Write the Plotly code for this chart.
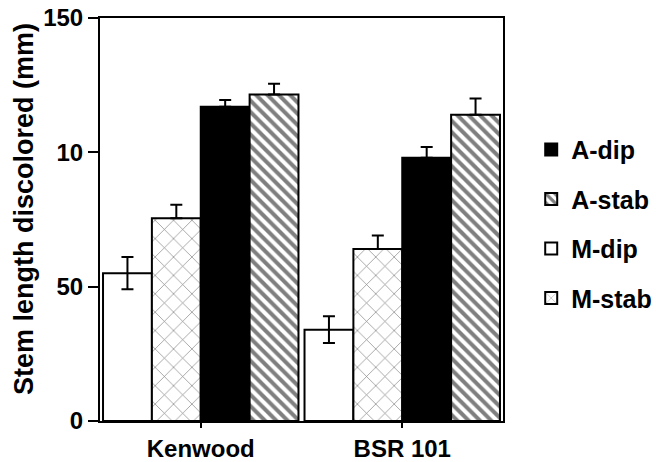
import plotly.graph_objects as go

cultivars = ["Kenwood", "BSR 101"]
series = ["M-dip", "M-stab", "A-dip", "A-stab"]
m_dip = [55, 34]
m_stab = [75.5, 64]
a_dip = [117, 98]
a_stab = [121.5, 114]
err_m_dip = [6, 5]
err_m_stab = [5, 5]
err_a_dip = [2.5, 4]
err_a_stab = [4, 6]
y_tickvals = [0, 50, 100, 150]
y_ticktext = ["0", "50", "10", "150"]
y_title = "Stem length discolored (mm)"

FONT = "Liberation Sans, Arial, sans-serif"

styles = {
    "M-dip": dict(color="white", pattern=dict(shape="")),
    "M-stab": dict(color="white", pattern=dict(shape="x", fgcolor="black", bgcolor="white", size=13, solidity=0.1)),
    "A-dip": dict(color="black", pattern=dict(shape="")),
    "A-stab": dict(color="white", pattern=dict(shape="\\", fgcolor="black", bgcolor="white", size=8, solidity=0.5)),
}
values = {"M-dip": m_dip, "M-stab": m_stab, "A-dip": a_dip, "A-stab": a_stab}
errs = {"M-dip": err_m_dip, "M-stab": err_m_stab, "A-dip": err_a_dip, "A-stab": err_a_stab}
ranks = {"A-dip": 1, "A-stab": 2, "M-dip": 3, "M-stab": 4}

fig = go.Figure()
for s in series:
    minus = errs[s] if s == "M-dip" else [0] * len(errs[s])
    fig.add_trace(go.Bar(
        x=cultivars, y=values[s], name=s,
        legendrank=ranks[s], legendgroup=s,
        marker=dict(color=styles[s]["color"], pattern=styles[s]["pattern"],
                    line=dict(color="black", width=2)),
        error_y=dict(type="data", symmetric=False, array=errs[s], arrayminus=minus,
                     color="black", thickness=2, width=6),
    ))

fig.update_layout(
    width=656, height=462,
    margin=dict(l=100, r=153, t=18, b=41, autoexpand=False),
    paper_bgcolor="white", plot_bgcolor="white",
    barmode="group", bargap=0.03, bargroupgap=0,
    font=dict(family=FONT, size=20, color="black", weight="bold"),
    showlegend=True,
    legend=dict(x=1.07, xanchor="left", y=0.73, yanchor="top",
                font=dict(family=FONT, size=25, weight="bold"),
                tracegroupgap=14, bgcolor="rgba(0,0,0,0)"),
    xaxis=dict(range=[-0.5, 1.5], showline=True, linecolor="black", linewidth=2,
               mirror=True, ticks="outside", ticklen=5, tickwidth=2, tickcolor="black",
               automargin=False,
               tickfont=dict(family=FONT, size=24, weight="bold"), showgrid=False),
    yaxis=dict(range=[0, 150], tickvals=y_tickvals, ticktext=y_ticktext,
               showline=True, linecolor="black", linewidth=2, mirror=True,
               ticks="outside", ticklen=10, tickwidth=1.5, tickcolor="black",
               automargin=False,
               tickfont=dict(family=FONT, size=24, weight="bold"), showgrid=False, zeroline=False),
    annotations=[dict(text=y_title, textangle=-90, xref="paper", yref="paper",
                      x=-76 / 403, y=212 / 403, xanchor="center", yanchor="middle",
                      showarrow=False, font=dict(family=FONT, size=27, weight="bold"))],
)

fig.write_html("out.html")
